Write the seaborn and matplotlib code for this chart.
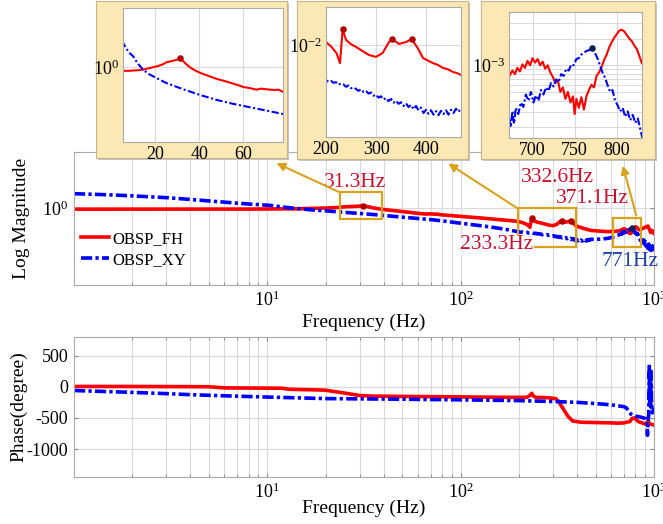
import numpy as np
import matplotlib
matplotlib.use("Agg")
import matplotlib.pyplot as plt
import seaborn as sns
from matplotlib.patches import Rectangle, FancyArrowPatch
from matplotlib.ticker import LogLocator, NullLocator, NullFormatter

# ---- magnitude data (log10 of magnitude) ----
fh_freq = [1, 1.5, 2, 3, 4, 5, 5.5, 6, 8, 10, 12, 14.4, 17, 20, 23, 25.3, 27, 29, 30.2, 31.3,
           32.5, 34, 36, 38, 40.6, 44, 48, 52, 55.7, 58, 60, 63, 66, 68, 71, 74, 76, 78, 85,
           100, 130, 160, 190, 200, 210, 221, 228, 233.3, 240, 250, 260, 273, 286, 300, 313,
           326, 332.6, 346, 360, 371.1, 383, 394, 404, 414, 424, 434, 444, 454, 462, 470, 520,
           580, 640, 672, 676, 679, 682, 685, 688, 691, 694, 697, 700, 703, 706, 709, 712, 715,
           718, 721, 724, 727, 730, 733, 736, 739, 742, 745, 748, 750, 752, 755, 758, 761, 764,
           767, 770, 773, 776, 779, 782, 785, 788, 791, 794, 797, 800, 803, 806, 809, 812, 815,
           818, 821, 824, 827, 830, 850, 870, 890, 910, 930, 945, 960, 975, 990, 1000]
fh_logmag = [-0.15, -0.15, -0.16, -0.15, -0.15, -0.15, -0.15, -0.14, -0.14, -0.13, -0.12, -0.10,
             -0.05, 0.01, 0.08, 0.18, 0.21, 0.25, 0.28, 0.32, 0.24, 0.12, -0.02, -0.12, -0.22,
             -0.32, -0.44, -0.53, -0.62, -0.68, -0.74, -0.78, -0.84, -0.80, -0.83, -0.85, -0.84,
             -0.92, -1.00, -1.15, -1.40, -1.62, -1.80, -1.89, -2.05, -2.30, -2.67, -1.41, -1.81,
             -1.97, -2.07, -2.22, -2.37, -2.44, -2.30, -1.89, -1.78, -1.96, -1.89, -1.78, -2.10,
             -2.48, -2.58, -2.67, -2.74, -2.85, -2.90, -3.00, -3.04, -3.11, -3.20, -3.28, -3.22,
             -3.13, -3.06, -3.10, -3.03, -3.07, -2.99, -3.03, -2.95, -3.00, -2.92, -2.97, -2.93,
             -3.00, -2.96, -3.04, -3.00, -3.08, -3.13, -3.20, -3.17, -3.30, -3.25, -3.38, -3.30,
             -3.42, -3.35, -3.55, -3.38, -3.48, -3.36, -3.50, -3.35, -3.28, -3.22, -3.25, -3.12,
             -3.08, -3.02, -2.94, -2.88, -2.80, -2.74, -2.69, -2.65, -2.61, -2.60, -2.62, -2.66,
             -2.70, -2.73, -2.78, -2.82, -2.90, -2.98, -3.05, -2.85, -2.75, -2.60, -2.50, -2.90,
             -3.40, -3.10, -3.30, -3.50]

xy_freq = [1, 1.5, 2, 3, 4, 5.5, 7, 8.5, 10.3, 12, 14.4, 17, 20, 25.3, 33, 40.6, 48, 55.7, 63, 71,
           78, 90, 110, 140, 170, 200, 205, 210, 215, 220, 225, 230, 235, 240, 245, 250, 255, 260,
           265, 270, 275, 280, 285, 290, 295, 300, 305, 310, 315, 320, 325, 330, 335, 340, 345,
           350, 355, 360, 365, 370, 375, 380, 385, 390, 395, 400, 405, 410, 415, 420, 425, 430,
           435, 440, 445, 450, 455, 460, 465, 470, 500, 540, 580, 620, 650, 672, 674, 676, 678,
           680, 683, 686, 689, 692, 695, 698, 701, 704, 707, 710, 713, 716, 719, 722, 725, 728,
           731, 734, 737, 740, 743, 746, 749, 752, 755, 758, 761, 764, 767, 771, 774, 777, 780,
           783, 786, 789, 792, 795, 798, 801, 804, 807, 810, 813, 816, 819, 822, 825, 828, 830,
           840, 850, 860, 870, 880, 890, 900, 910, 920, 930, 940, 950, 960, 970, 980, 990, 1000]
xy_logmag = [2.00, 1.85, 1.70, 1.45, 1.20, 0.90, 0.68, 0.52, 0.38, 0.15, -0.08, -0.25, -0.38,
             -0.60, -0.83, -1.04, -1.22, -1.37, -1.49, -1.62, -1.74, -1.95, -2.25, -2.60, -2.95,
             -3.30, -3.36, -3.33, -3.40, -3.38, -3.47, -3.43, -3.46, -3.55, -3.50, -3.60, -3.57,
             -3.63, -3.70, -3.64, -3.74, -3.70, -3.80, -3.76, -3.88, -3.84, -3.95, -3.90, -4.02,
             -3.96, -4.08, -4.00, -4.14, -4.06, -4.18, -4.12, -4.26, -4.16, -4.30, -4.22, -4.38,
             -4.26, -4.42, -4.32, -4.52, -4.40, -4.55, -4.42, -4.58, -4.45, -4.60, -4.44, -4.56,
             -4.42, -4.58, -4.40, -4.52, -4.36, -4.48, -4.34, -4.35, -4.30, -4.20, -4.00, -3.80,
             -3.58, -3.70, -3.52, -3.66, -3.48, -3.55, -3.42, -3.47, -3.33, -3.40, -3.30, -3.42,
             -3.34, -3.40, -3.28, -3.33, -3.25, -3.29, -3.20, -3.24, -3.16, -3.19, -3.10, -3.12,
             -3.04, -3.06, -2.99, -3.00, -2.93, -2.92, -2.88, -2.86, -2.84, -2.83, -2.81, -2.86,
             -2.92, -3.00, -3.08, -3.14, -3.22, -3.30, -3.28, -3.40, -3.45, -3.52, -3.48, -3.58,
             -3.52, -3.62, -3.56, -3.65, -3.60, -3.72, -3.80, -4.10, -4.50, -4.20, -4.70, -4.40,
             -5.00, -4.60, -5.30, -4.80, -5.60, -5.00, -5.80, -5.20, -5.90, -5.30, -5.70, -5.10]

fh_peaks = [31.3, 233.3, 332.6, 371.1]
xy_peaks = [771]

# ---- phase data (degree) ----
fh_ph_freq = [1, 2, 3, 4, 5, 5.5, 6, 8, 10, 12, 13, 15, 18, 20, 22, 25, 28, 30, 35, 50, 80, 120,
              180, 220, 228, 233, 238, 245, 280, 310, 320, 340, 360, 380, 420, 500, 600, 650, 700,
              720, 750, 770, 790, 810, 830, 860, 900, 930, 960, 1000]
fh_phase = [5, 5, 3, 2, 0, -10, -18, -20, -22, -24, -40, -45, -50, -55, -75, -100, -125, -140,
            -150, -155, -160, -165, -170, -170, -140, -105, -150, -170, -175, -190, -230, -360,
            -480, -550, -570, -575, -580, -585, -580, -570, -560, -510, -500, -530, -560, -575,
            -600, -560, -600, -615]
xy_ph_freq = [1, 2, 3, 4, 6, 10, 20, 50, 100, 200, 300, 400, 500, 600, 700, 720, 740, 760, 780,
              800, 830, 860, 880, 900, 910, 920, 925, 930, 935, 940, 945, 950, 955, 960, 965, 970,
              980, 990, 1000]
xy_phase = [-60, -90, -110, -127, -145, -165, -190, -200, -210, -222, -237, -250, -270, -290, -320,
            -340, -400, -440, -460, -470, -480, -490, -500, -510, -540, -600, -780, -620, -500,
            -450, 355, -300, 150, -320, 250, -200, -420, -380, -350]

RED, BLUE = "#FF0000", "#0000FF"
GOLD = "#D9A21B"
CREAM = "#FCE8B4"
W, H = 663, 524

plt.rcParams["font.family"] = ["Liberation Serif", "DejaVu Serif"]
plt.rcParams["mathtext.fontset"] = "custom"
plt.rcParams["mathtext.rm"] = "Liberation Serif"
plt.rcParams["mathtext.it"] = "Liberation Serif:italic"
plt.rcParams["axes.unicode_minus"] = False


def fr(x0, y0, x1, y1):
    return [x0 / W, 1 - y1 / H, (x1 - x0) / W, (y1 - y0) / H]


def fp(x, y):
    return (x / W, 1 - y / H)


def style_axes(ax, size=13):
    for s in ax.spines.values():
        s.set_color("#AAAAAA")
        s.set_linewidth(0.8)
    ax.tick_params(which="both", direction="in", color="#888888", top=True, right=True,
                   labelsize=size, pad=4)
    ax.tick_params(which="major", length=3)
    ax.tick_params(which="minor", length=2)
    ax.set_facecolor("white")


fh_mag = 10 ** np.array(fh_logmag)
xy_mag = 10 ** np.array(xy_logmag)
fh_pk_mag = [fh_mag[fh_freq.index(f)] for f in fh_peaks]
xy_pk_mag = [xy_mag[xy_freq.index(f)] for f in xy_peaks]

fig = plt.figure(figsize=(W / 100, H / 100), dpi=100)

# ---- magnitude ----
ax1 = fig.add_axes(fr(74, 152, 654, 285), zorder=1)
sns.lineplot(x=fh_freq, y=fh_mag, ax=ax1, color=RED, lw=2.6, sort=False, estimator=None,
             label="OBSP_FH")
sns.lineplot(x=xy_freq, y=xy_mag, ax=ax1, color=BLUE, lw=2.6, sort=False, estimator=None,
             label="OBSP_XY")
ax1.lines[1].set_dashes([3.1, 0.9, 0.9, 0.9])
ax1.scatter(fh_peaks, fh_pk_mag, s=22, color="#B00000", zorder=5, lw=0)
ax1.scatter(xy_peaks, xy_pk_mag, s=22, color="#0A1E5A", zorder=5, lw=0)
ax1.set_xscale("log")
ax1.set_yscale("log")
ax1.set_xlim(1, 1000)
ax1.set_ylim(10 ** -10.7, 10 ** 7.8)
ax1.set_xticks([10, 100, 1000])
ax1.set_xticklabels(["$10^{1}$", "$10^{2}$", "$10^{3}$"])
ax1.xaxis.set_minor_locator(LogLocator(subs=np.arange(2, 10)))
ax1.xaxis.set_minor_formatter(NullFormatter())
ax1.set_yticks([1])
ax1.set_yticklabels(["$10^{0}$"])
ax1.yaxis.set_minor_locator(NullLocator())
style_axes(ax1)
ax1.grid(which="both", axis="x", color="#DADADA", lw=0.8)
ax1.grid(which="major", axis="y", color="#DADADA", lw=0.8)
ax1.set_xlabel("Frequency (Hz)", fontsize=14)
ax1.set_ylabel("Log Magnitude", fontsize=14)
ax1.xaxis.set_label_coords(0.5, -0.215)
ax1.yaxis.set_label_coords(-0.076, 0.5)
ax1.legend(loc="center left", bbox_to_anchor=(0.0, 0.265), frameon=False, fontsize=12,
           handlelength=1.7, handletextpad=0.2, labelspacing=0.3, borderaxespad=0)

# zoom regions (Hz, log10 magnitude)
zoom_boxes = [(23.8, 39.2, -1.5, 2.2), (197, 396, -5.4, 0.0), (615, 857, -5.4, -1.4)]
for f0, f1, l0, l1 in zoom_boxes:
    ax1.add_patch(Rectangle((f0, 10 ** l0), f1 - f0, 10 ** l1 - 10 ** l0, fill=False,
                            ec=GOLD, lw=1.6, zorder=6))

txt_kw = dict(transform=ax1.transAxes, ha="center", va="center", fontsize=15.5, zorder=7)
ax1.text(0.4845, 0.774, "31.3Hz", color="#C8102E", **txt_kw)
ax1.text(0.834, 0.805, "332.6Hz", color="#C8102E", **txt_kw)
ax1.text(0.893, 0.654, "371.1Hz", color="#C8102E", **txt_kw)
ax1.text(0.729, 0.301, "233.3Hz", color="#C8102E",
         bbox=dict(fc="white", ec="none", pad=0.5), **txt_kw)
ax1.text(0.959, 0.173, "771Hz", color="#1C3FA8", **txt_kw)

# ---- phase ----
ax2 = fig.add_axes(fr(74, 337, 654, 477), zorder=1)
sns.lineplot(x=fh_ph_freq, y=fh_phase, ax=ax2, color=RED, lw=2.6, sort=False, estimator=None)
sns.lineplot(x=xy_ph_freq, y=xy_phase, ax=ax2, color=BLUE, lw=2.6, sort=False, estimator=None)
ax2.lines[1].set_dashes([3.1, 0.9, 0.9, 0.9])
ax2.set_xscale("log")
ax2.set_xlim(1, 1000)
ax2.set_ylim(-1450, 800)
ax2.set_xticks([10, 100, 1000])
ax2.set_xticklabels(["$10^{1}$", "$10^{2}$", "$10^{3}$"])
ax2.xaxis.set_minor_locator(LogLocator(subs=np.arange(2, 10)))
ax2.xaxis.set_minor_formatter(NullFormatter())
ax2.set_yticks([500, 0, -500, -1000])
style_axes(ax2)
ax2.grid(which="both", axis="x", color="#DADADA", lw=0.8)
ax2.grid(which="major", axis="y", color="#DADADA", lw=0.8)
ax2.set_xlabel("Frequency (Hz)", fontsize=14)
ax2.set_ylabel("Phase(degree)", fontsize=14)
ax2.xaxis.set_label_coords(0.5, -0.16)
ax2.yaxis.set_label_coords(-0.08, 0.5)

# ---- inset panels ----
boxes = [(96, 1, 287, 158), (297, 1, 468, 159), (481, 1, 655, 159)]
inset_rects = [(123, 8, 283, 142), (326, 7, 461, 137), (509, 12, 642, 138)]
inset_xlim = [(5.5, 78), (200, 470), (672, 830)]
inset_ylog = [(-2.78, 2.19), (-5.41, -0.59), (-3.82, -2.40)]
inset_xticks = [[20, 40, 60], [200, 300, 400], [700, 750, 800]]
inset_ytick = [0, -2, -3]

for i in range(3):
    x0, y0, x1, y1 = boxes[i]
    sh = fig.add_axes(fr(x0 + 2, y0 + 2, x1 + 2, y1 + 2), zorder=2)
    sh.set_facecolor("#C4C4C4")
    sh.set_xticks([]); sh.set_yticks([])
    for s in sh.spines.values():
        s.set_visible(False)
    bx = fig.add_axes(fr(x0, y0, x1, y1), zorder=2.1)
    bx.set_facecolor(CREAM)
    bx.set_xticks([]); bx.set_yticks([])
    for s in bx.spines.values():
        s.set_color("#C9B48A")
        s.set_linewidth(0.8)

    ax = fig.add_axes(fr(*inset_rects[i]), zorder=3)
    sns.lineplot(x=fh_freq, y=fh_mag, ax=ax, color=RED, lw=1.5, sort=False, estimator=None)
    sns.lineplot(x=xy_freq, y=xy_mag, ax=ax, color=BLUE, lw=1.5, sort=False, estimator=None)
    ax.lines[1].set_dashes([3.5, 1.2, 1.0, 1.2])
    if i < 2:
        ax.scatter(fh_peaks, fh_pk_mag, s=22, color="#B00000", zorder=5, lw=0)
    else:
        ax.scatter(xy_peaks, xy_pk_mag, s=22, color="#0A1E5A", zorder=5, lw=0)
    ax.set_yscale("log")
    ax.set_xlim(*inset_xlim[i])
    ax.set_ylim(10 ** inset_ylog[i][0], 10 ** inset_ylog[i][1])
    ax.set_xticks(inset_xticks[i])
    ax.set_yticks([10.0 ** inset_ytick[i]])
    ax.set_yticklabels(["$10^{%d}$" % inset_ytick[i]])
    if i == 2:
        ax.yaxis.set_minor_locator(LogLocator(subs=np.arange(2, 10)))
        ax.yaxis.set_minor_formatter(NullFormatter())
        ax.grid(which="minor", axis="y", color="#DADADA", lw=0.7)
    else:
        ax.yaxis.set_minor_locator(NullLocator())
    style_axes(ax)
    ax.tick_params(which="both", length=0, pad=3)
    ax.grid(which="major", color="#DADADA", lw=0.8)

# arrows from zoom regions to panels
arrows = [((341, 193), (274, 162)), ((520, 210), (446, 162)), ((637, 218), (622, 163))]
for a, b in arrows:
    fig.add_artist(FancyArrowPatch(fp(*a), fp(*b), transform=fig.transFigure,
                                   arrowstyle="-|>", mutation_scale=12, color=GOLD,
                                   lw=1.5, zorder=6))

fig.savefig("out.png", dpi=100)
